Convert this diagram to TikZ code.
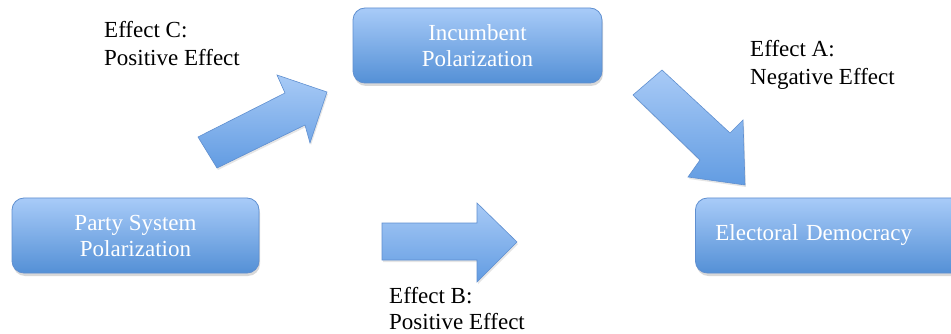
\documentclass[tikz,border=0pt]{standalone}
\usepackage{fontspec}
\setmainfont{Liberation Serif}
\usetikzlibrary{shadows}
\definecolor{boxtop}{RGB}{168,203,248}
\definecolor{boxbot}{RGB}{84,144,214}
\definecolor{boxline}{RGB}{95,143,208}
\definecolor{arrtop}{RGB}{168,202,246}
\definecolor{arrbot}{RGB}{98,156,226}
\tikzset{
  box/.style={rounded corners=12pt, draw=boxline, line width=0.8pt,
    top color=boxtop, bottom color=boxbot, text=white,
    font=\fontsize{23}{26}\selectfont, align=center, inner sep=0pt,
    minimum height=75pt,
    drop shadow={shadow xshift=1pt, shadow yshift=-3pt, opacity=0.3}},
  blockarrow/.style={draw=boxline, line width=0.6pt, line join=miter,
    top color=arrtop, bottom color=arrbot,
    drop shadow={shadow xshift=1pt, shadow yshift=-2pt, opacity=0.2}},
  effect/.style={font=\fontsize{23}{28}\selectfont, align=left,
    inner sep=0pt, anchor=north west}
}
\begin{document}
\begin{tikzpicture}[x=1pt,y=-1pt]
\useasboundingbox[fill=white] (0,0) rectangle (951,334);
% boxes
\node[box, minimum width=247pt] (psp) at (135.5,235.5) {Party System\\Polarization};
\node[box, minimum width=249pt] (ip) at (477.5,45.5) {Incumbent\\Polarization};
\node[box, anchor=west, align=left, text width=280pt, inner xsep=20pt] (ed) at (695,235.5) {Electoral Democracy};
% block arrows
\path[blockarrow] (198,137) -- (285,93) -- (277,75) -- (327,92) -- (310,143) -- (305,125) -- (217,168) -- cycle;
\path[blockarrow] (633,95) -- (662,70) -- (730,133) -- (743,120) -- (745,185) -- (688,177) -- (700,160) -- cycle;
\path[blockarrow] (382,223) -- (477,223) -- (477,203) -- (517,242) -- (477,282) -- (477,260) -- (382,260) -- cycle;
% labels
\node[effect] (lc) at (104,21) {Effect C:\\Positive Effect};
\node[effect] (la) at (750,40) {Effect A:\\Negative Effect};
\node[effect, font=\fontsize{23}{26}\selectfont] (lb) at (389,287) {Effect B:\\Positive Effect};
\end{tikzpicture}
\end{document}
